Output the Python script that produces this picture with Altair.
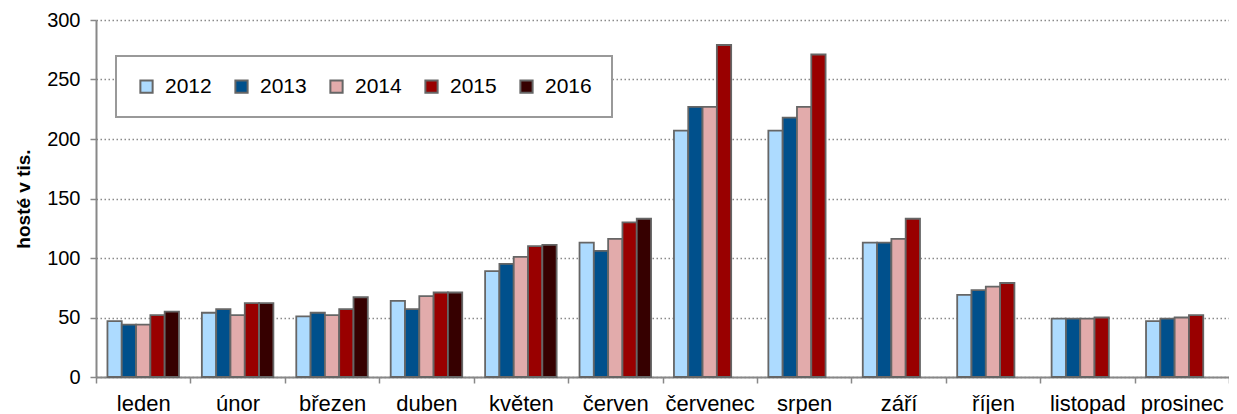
import altair as alt
import pandas as pd

months = ["leden", "únor", "březen", "duben", "květen", "červen",
          "červenec", "srpen", "září", "říjen", "listopad", "prosinec"]
years = ["2012", "2013", "2014", "2015", "2016"]
v2012 = [47, 54, 51, 64, 89, 113, 207, 207, 113, 69, 49, 47]
v2013 = [44, 57, 54, 57, 95, 106, 227, 218, 113, 73, 49, 49]
v2014 = [44, 52, 52, 68, 101, 116, 227, 227, 116, 76, 49, 50]
v2015 = [52, 62, 57, 71, 110, 130, 279, 271, 133, 79, 50, 52]
v2016 = [55, 62, 67, 71, 111, 133, None, None, None, None, None, None]
colors = ["#ADDBFF", "#00508C", "#E2ABAB", "#990000", "#360000"]

rows = []
for y, vals in zip(years, [v2012, v2013, v2014, v2015, v2016]):
    for m, v in zip(months, vals):
        if v is not None:
            rows.append({"month": m, "year": y, "value": v})
df = pd.DataFrame(rows)

FONT = "Liberation Sans"

chart = alt.Chart(df).mark_bar(stroke="#666666", strokeWidth=1.8).encode(
    x=alt.X("month:N", sort=months,
            scale=alt.Scale(paddingInner=0, paddingOuter=0),
            axis=alt.Axis(title=None, labelAngle=0, tickBand="extent",
                          labelFontSize=22, labelFont=FONT, labelColor="#000000",
                          labelBaseline="alphabetic", labelPadding=27,
                          tickSize=6, tickColor="#888888",
                          tickWidth=1.5, domainColor="#888888", domainWidth=2,
                          grid=False)),
    xOffset=alt.XOffset("year:N", sort=years,
                        scale=alt.Scale(domain=years, paddingOuter=0.8, paddingInner=0)),
    y=alt.Y("value:Q",
            scale=alt.Scale(domain=[0, 300], nice=False),
            axis=alt.Axis(title="hosté v tis.", values=[0, 50, 100, 150, 200, 250, 300],
                          labelFontSize=20, labelFont=FONT, labelColor="#000000",
                          labelPadding=10, tickSize=6, tickColor="#888888", tickWidth=1.5,
                          domainColor="#888888", domainWidth=2,
                          titleFont=FONT, titleFontSize=19, titleFontWeight="bold",
                          titleColor="#000000", titleX=-73, titleBaseline="middle",
                          grid=True, gridColor="#8a8a8a", gridDash=[1.5, 2.5],
                          gridWidth=1.5)),
    color=alt.Color("year:N", sort=years,
                    scale=alt.Scale(domain=years, range=colors),
                    legend=alt.Legend(title=None, orient="none", legendX=20, legendY=36,
                                      direction="horizontal", columns=5,
                                      symbolType="square", symbolSize=150,
                                      symbolStrokeColor="#666666", symbolStrokeWidth=2,
                                      labelFont=FONT, labelFontSize=21, labelColor="#000000",
                                      labelOffset=8, columnPadding=19,
                                      padding=20, strokeColor="#999999",
                                      fillColor="#ffffff")),
).properties(
    width=1133, height=357,
    autosize=alt.AutoSizeParams(type="none"),
    padding={"left": 88, "top": 12, "right": 0, "bottom": 37},
).configure_view(stroke=None).configure_legend(strokeWidth=2)

chart.save("out.html", embed_options={"renderer": "svg", "actions": False})
